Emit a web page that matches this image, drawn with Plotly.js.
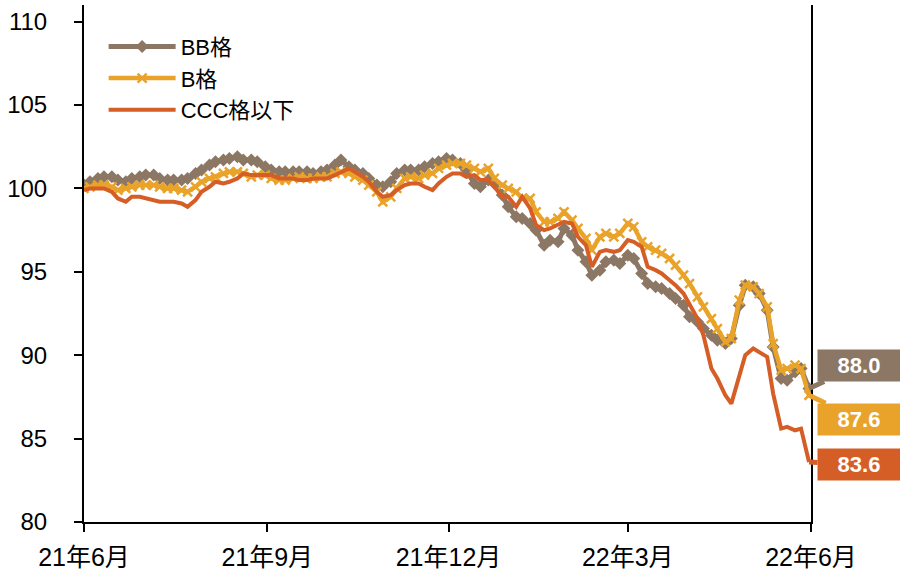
<!DOCTYPE html>
<html>
<head>
<meta charset="utf-8">
<script src="https://cdn.plot.ly/plotly-3.0.1.min.js"></script>
<style>html,body{margin:0;padding:0;background:#fff;}#chart{width:900px;height:574px;}</style>
</head>
<body>
<div id="chart"></div>
<script>
const seriesNames = ['BB格', 'B格', 'CCC格以下'];
const dates = [
 '2021-06-01','2021-06-04','2021-06-08','2021-06-11','2021-06-15','2021-06-18','2021-06-22','2021-06-25','2021-06-29',
 '2021-07-02','2021-07-06','2021-07-09','2021-07-13','2021-07-16','2021-07-20','2021-07-23','2021-07-27','2021-07-30',
 '2021-08-03','2021-08-06','2021-08-10','2021-08-13','2021-08-17','2021-08-20','2021-08-24','2021-08-27','2021-08-31',
 '2021-09-03','2021-09-07','2021-09-10','2021-09-14','2021-09-17','2021-09-21','2021-09-24','2021-09-28',
 '2021-10-01','2021-10-05','2021-10-08','2021-10-12','2021-10-15','2021-10-19','2021-10-22','2021-10-26','2021-10-29',
 '2021-11-02','2021-11-05','2021-11-09','2021-11-12','2021-11-16','2021-11-19','2021-11-23','2021-11-26','2021-11-30',
 '2021-12-03','2021-12-07','2021-12-10','2021-12-14','2021-12-17','2021-12-21','2021-12-24','2021-12-28','2021-12-31',
 '2022-01-04','2022-01-07','2022-01-11','2022-01-14','2022-01-18','2022-01-21','2022-01-25','2022-01-28',
 '2022-02-01','2022-02-04','2022-02-08','2022-02-11','2022-02-15','2022-02-18','2022-02-22','2022-02-25',
 '2022-03-01','2022-03-04','2022-03-08','2022-03-11','2022-03-15','2022-03-18','2022-03-22','2022-03-25','2022-03-29',
 '2022-04-01','2022-04-05','2022-04-08','2022-04-12','2022-04-15','2022-04-19','2022-04-22','2022-04-26','2022-04-29',
 '2022-05-03','2022-05-06','2022-05-10','2022-05-13','2022-05-17','2022-05-20','2022-05-24','2022-05-27','2022-05-31'
];
const bbValues = [
 100.2,100.4,100.6,100.7,100.7,100.5,100.4,100.6,100.7,
 100.8,100.8,100.6,100.5,100.5,100.5,100.6,100.9,101.1,
 101.4,101.6,101.7,101.8,101.9,101.7,101.7,101.6,101.3,
 101.1,101.0,101.0,101.0,101.0,101.0,100.9,101.0,
 101.1,101.4,101.7,101.3,101.1,100.9,100.6,100.2,100.1,
 100.4,100.9,101.1,101.1,101.1,101.3,101.5,101.6,101.8,
 101.7,101.5,101.1,100.3,100.1,100.5,100.3,99.6,98.9,
 98.3,98.2,97.9,97.5,96.6,96.9,96.8,97.6,
 97.2,96.3,95.6,94.8,95.1,95.6,95.7,95.5,
 96.0,95.8,94.9,94.3,94.1,94.0,93.7,93.4,93.0,
 92.3,92.0,91.6,91.2,90.9,90.7,91.0,93.0,94.2,
 94.1,93.7,92.7,90.5,88.6,88.5,89.0,89.2,88.0
];
const bValues = [
 100.0,100.1,100.2,100.2,100.1,99.9,100.0,100.1,100.2,
 100.2,100.2,100.1,100.0,100.0,99.9,99.8,100.1,100.4,
 100.6,100.7,100.9,101.0,101.0,100.9,100.7,100.8,100.8,
 100.6,100.5,100.5,100.6,100.7,100.6,100.6,100.7,
 100.7,100.9,101.0,100.9,100.7,100.5,100.2,99.8,99.2,
 99.5,100.0,100.6,100.7,100.6,100.8,100.9,101.2,101.4,
 101.5,101.5,101.4,101.2,101.0,101.2,100.6,100.2,100.0,
 99.8,99.4,99.4,98.6,98.0,98.0,98.2,98.6,
 98.1,97.6,97.0,96.3,97.1,97.3,97.1,97.3,
 97.9,97.7,96.8,96.5,96.3,96.1,95.8,95.4,94.8,
 94.3,93.5,92.9,92.2,91.6,90.8,91.0,93.3,94.2,
 94.1,93.7,92.9,90.7,89.1,89.2,89.4,89.2,87.6
];
const cccValues = [
 99.9,100.0,100.0,100.0,99.8,99.4,99.2,99.5,99.5,
 99.4,99.3,99.2,99.2,99.2,99.1,98.9,99.3,99.8,
 100.1,100.4,100.3,100.4,100.6,100.9,100.8,100.8,100.8,
 100.8,100.6,100.6,100.6,100.5,100.5,100.6,100.6,
 100.6,100.8,101.0,101.2,101.0,100.7,100.4,99.8,99.5,
 99.6,99.9,100.2,100.3,100.3,100.1,99.9,100.3,100.7,
 100.9,100.9,100.7,100.8,100.5,100.5,100.1,99.5,99.5,
 98.9,99.5,98.8,97.8,97.5,97.6,97.8,98.0,
 97.9,97.1,96.6,95.3,96.2,96.3,96.2,96.3,
 96.9,96.8,96.5,95.3,95.1,94.9,94.5,94.2,93.7,
 93.1,92.2,91.2,89.2,88.6,87.6,87.1,88.8,90.0,
 90.4,90.2,89.9,87.7,85.6,85.7,85.5,85.6,83.6
];
const xTickVals = ['2021-06-01','2021-09-01','2021-12-01','2022-03-01','2022-06-01'];
const xTickText = ['21年6月','21年9月','21年12月','22年3月','22年6月'];
const yTickVals = [80, 85, 90, 95, 100, 105, 110];

const colBB = '#8C7764', colB = '#EAA32A', colC = '#D55E27';
const FONT = 'Arial, "Liberation Sans", "Noto Sans CJK JP", sans-serif';

const traces = [
  {x: dates, y: bbValues, name: seriesNames[0], type: 'scatter', mode: 'lines+markers',
   line: {color: colBB, width: 5}, marker: {symbol: 'diamond', size: 10, color: colBB}},
  {x: dates, y: bValues, name: seriesNames[1], type: 'scatter', mode: 'lines+markers',
   line: {color: colB, width: 4.5}, marker: {symbol: 'x-thin', size: 9, color: colB, line: {color: colB, width: 2.5}}},
  {x: dates, y: cccValues, name: seriesNames[2], type: 'scatter', mode: 'lines',
   line: {color: colC, width: 4}}
];

const last = dates.length - 1;
function endLabel(vals, col, ax, ay) {
  return {x: dates[last], y: vals[last], xref: 'x', yref: 'y', text: '<b>' + vals[last].toFixed(1) + '</b>',
    showarrow: true, arrowhead: 0, arrowwidth: 5, arrowcolor: col, ax: ax, ay: ay, standoff: 0,
    bgcolor: col, width: 78, height: 27, borderpad: 2,
    font: {family: FONT, size: 22, color: '#fff'}};
}

const layout = {
  width: 900, height: 574,
  margin: {l: 84, r: 89, t: 5, b: 52},
  paper_bgcolor: '#fff', plot_bgcolor: '#fff',
  font: {family: FONT, color: '#000'},
  showlegend: true,
  legend: {x: 0.027, y: 0.96, xanchor: 'left', yanchor: 'top', bgcolor: 'rgba(0,0,0,0)',
           font: {family: FONT, size: 22, color: '#000'}, itemwidth: 67, tracegroupgap: 0},
  xaxis: {type: 'date', range: ['2021-06-01', '2022-06-01'], tickvals: xTickVals, ticktext: xTickText,
          showline: true, linecolor: '#000', linewidth: 2, ticks: 'outside', ticklen: 8, tickwidth: 2, tickcolor: '#000',
          showgrid: false, zeroline: false, tickfont: {family: FONT, size: 25}, ticklabelstandoff: 4},
  yaxis: {range: [80, 111], tickvals: yTickVals, showline: true, mirror: true, linecolor: '#000', linewidth: 2,
          ticks: 'outside', ticklen: 8, tickwidth: 2, tickcolor: '#000', showgrid: false, zeroline: false,
          tickfont: {family: FONT, size: 24}, ticklabelstandoff: 22},
  annotations: [
    endLabel(bbValues, colBB, 50, -23),
    endLabel(bValues, colB, 50, 24),
    endLabel(cccValues, colC, 50, 3)
  ]
};

Plotly.newPlot('chart', traces, layout, {displayModeBar: false, staticPlot: true});
</script>
</body>
</html>
